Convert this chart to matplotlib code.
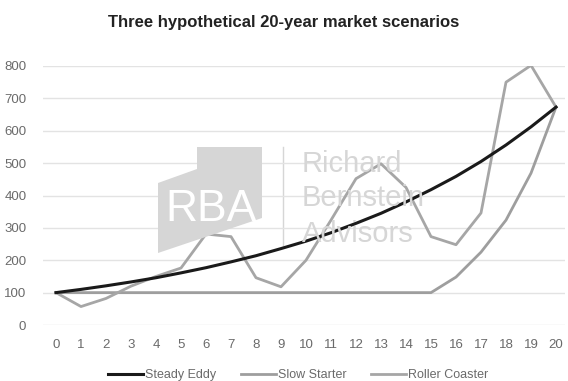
import matplotlib
matplotlib.use("Agg")
import matplotlib.pyplot as plt
from matplotlib.patches import Polygon

plt.rcParams['font.family'] = ['Liberation Sans', 'DejaVu Sans']

# DATA
years = list(range(21))
steady_eddy = [100, 110, 121, 133, 146, 161, 177, 195, 214, 236, 259,
               285, 314, 345, 380, 418, 459, 505, 556, 612, 673]
slow_starter = [100, 100, 100, 100, 100, 100, 100, 100, 100, 100, 100,
                100, 100, 100, 100, 100, 148, 225, 324, 469, 673]
roller_coaster = [100, 57, 82, 120, 150, 176, 281, 273, 146, 118, 200,
                  324, 452, 498, 425, 273, 248, 346, 750, 802, 673]
yticks = [0, 100, 200, 300, 400, 500, 600, 700, 800]

W, H = 568, 381
fig = plt.figure(figsize=(W / 100, H / 100), dpi=100)
ax = fig.add_axes([43 / W, 1 - 325 / H, (565 - 43) / W, (325 - 66) / H])
ax.set_facecolor('none')

# watermark, placed in pixel coords -> figure fractions
def fp(x, y):
    return (x / W, 1 - y / H)

wm = '#d6d6d6'
logo = Polygon([fp(158, 183), fp(197, 169), fp(197, 147), fp(262, 147),
                fp(262, 218), fp(158, 253)], closed=True,
               transform=fig.transFigure, facecolor=wm, edgecolor='none', zorder=0)
fig.patches.append(logo)
fig.text(211 / W, 1 - 221 / H, 'RBA', color='white', fontsize=32, ha='center', va='baseline',
         zorder=1)
fig.add_artist(plt.Line2D([283 / W, 283 / W], [1 - 147 / H, 1 - 245 / H],
                          transform=fig.transFigure, color=wm, lw=1, zorder=0))
for word, base in [('Richard', 172), ('Bernstein', 206), ('Advisors', 242)]:
    fig.text(302 / W, 1 - base / H, word, color=wm, fontsize=21, ha='left', va='baseline', zorder=0)

ax.plot(years, steady_eddy, color='#1a1a1a', lw=2.2, label='Steady Eddy', zorder=4)
ax.plot(years, slow_starter, color='#9e9e9e', lw=2.0, label='Slow Starter', zorder=3)
ax.plot(years, roller_coaster, color='#a6a6a6', lw=2.0, label='Roller Coaster', zorder=3)

ax.set_xlim(-0.52, 20.36)
ax.set_ylim(0, 800)
ax.set_xticks(years)
ax.set_yticks(yticks)
ax.grid(axis='y', color='#e3e3e3', lw=1)
ax.set_axisbelow(True)
for s in ax.spines.values():
    s.set_visible(False)
ax.tick_params(length=0, labelsize=9.5, labelcolor='#6a6a6a')
ax.tick_params(axis='y', pad=12)
ax.tick_params(axis='x', pad=10)

fig.text(0.5, 1 - 22 / H, 'Three hypothetical 20-year market scenarios', ha='center', va='center',
         fontsize=12, fontweight='bold', color='#222222')

ax.legend(loc='center', bbox_to_anchor=(298 / W, 1 - 375 / H), bbox_transform=fig.transFigure,
          ncol=3, frameon=False, fontsize=9, handlelength=2.8, handletextpad=0.15,
          columnspacing=2.0, labelcolor='#6a6a6a')

fig.savefig('out.png', dpi=100)
